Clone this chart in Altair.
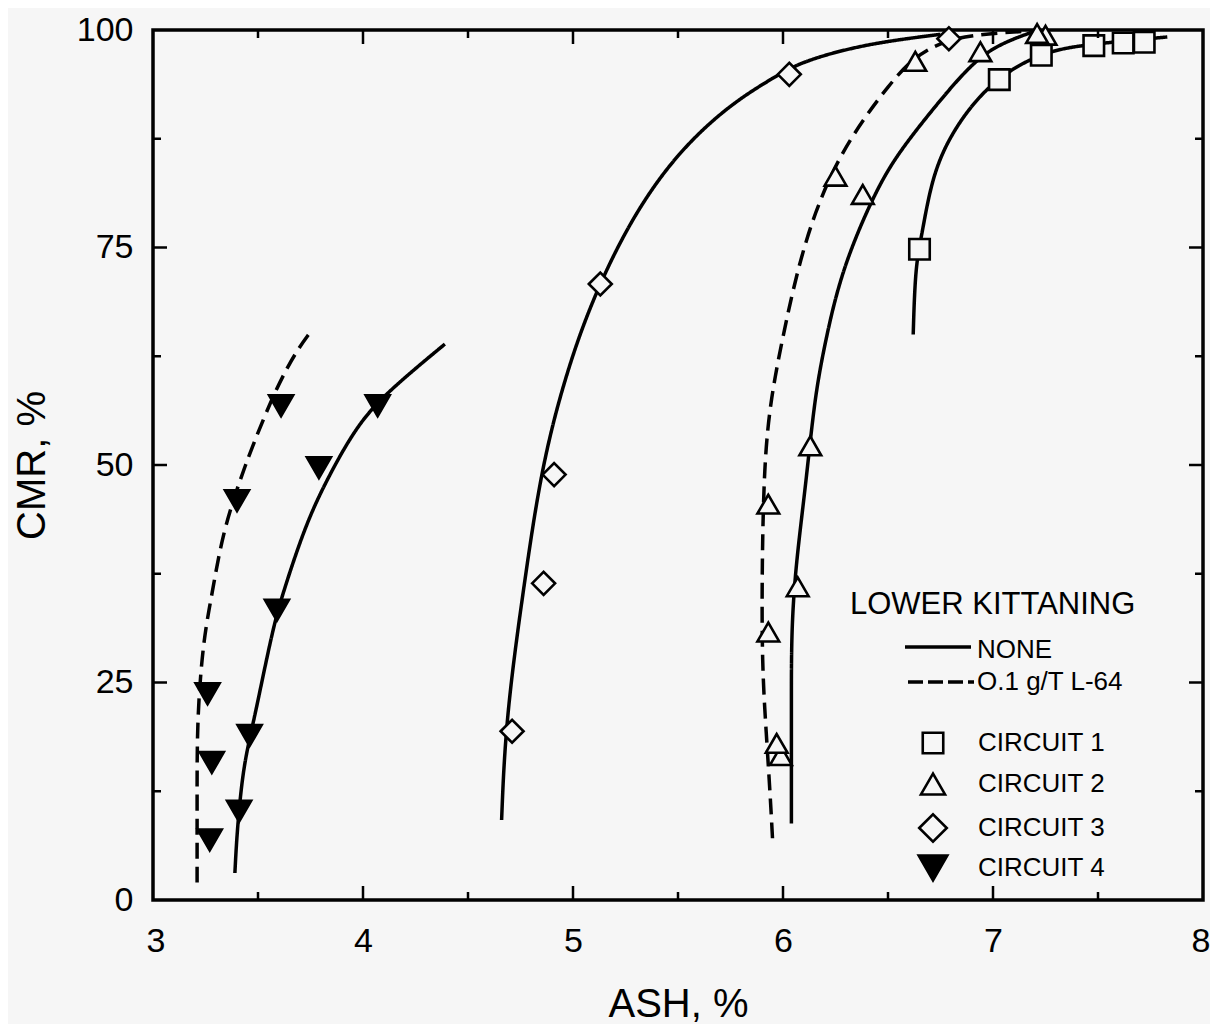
import altair as alt
import pandas as pd

# ---------------- data ----------------
# Circuit markers (ASH %, CMR %)
c1_x = [6.65, 7.03, 7.23, 7.48, 7.62, 7.72]
c1_y = [74.8, 94.3, 97.1, 98.2, 98.5, 98.6]

c2_none_x = [5.99, 6.07, 6.13, 6.38, 6.94, 7.25]
c2_none_y = [16.6, 36.0, 52.2, 81.1, 97.5, 99.4]
c2_l64_x = [5.97, 5.93, 5.93, 6.25, 6.63, 7.21]
c2_l64_y = [18.0, 30.8, 45.5, 83.2, 96.4, 99.6]

c3_x = [4.71, 4.86, 4.91, 5.13, 6.03, 6.79]
c3_y = [19.4, 36.4, 48.9, 70.8, 94.9, 99.0]

c4_none_x = [3.41, 3.46, 3.59, 3.79, 4.07]
c4_none_y = [10.2, 18.9, 33.3, 49.7, 56.8]
c4_l64_x = [3.27, 3.28, 3.26, 3.40, 3.61]
c4_l64_y = [6.9, 15.8, 23.7, 45.9, 56.8]

# Fitted curves
fit_c1_none_x = [6.62, 6.63, 6.66, 6.71, 6.80, 6.94, 7.10, 7.28, 7.45, 7.65, 7.83]
fit_c1_none_y = [65.0, 72.8, 76.3, 83.2, 88.1, 92.7, 95.8, 97.7, 98.3, 98.8, 99.2]

fit_c2_none_x = [6.04, 6.04, 6.04, 6.04, 6.06, 6.11, 6.15, 6.20, 6.28, 6.44, 6.55, 6.71, 6.87, 7.00, 7.18]
fit_c2_none_y = [8.8, 15.5, 23.2, 30.8, 38.4, 48.0, 57.6, 64.1, 72.5, 81.5, 85.9, 90.8, 95.4, 98.1, 99.7]

fit_c2_l64_x = [5.95, 5.94, 5.92, 5.90, 5.90, 5.91, 5.94, 6.01, 6.07, 6.15, 6.26, 6.39, 6.50, 6.61, 6.74, 6.90, 7.20]
fit_c2_l64_y = [7.1, 11.7, 19.3, 27.0, 38.4, 49.9, 57.6, 66.0, 72.5, 79.0, 85.1, 90.0, 93.5, 96.6, 98.5, 99.5, 99.9]

fit_c3_none_x = [4.66, 4.68, 4.77, 4.85, 4.96, 5.09, 5.28, 5.50, 5.75, 5.96, 6.09, 6.39, 6.75]
fit_c3_none_y = [9.2, 21.0, 36.8, 49.7, 60.0, 69.0, 78.5, 86.0, 91.5, 94.6, 96.4, 98.4, 99.5]

fit_c4_none_x = [3.39, 3.40, 3.43, 3.48, 3.57, 3.62, 3.73, 3.84, 3.98, 4.13, 4.39]
fit_c4_none_y = [3.1, 7.9, 15.5, 20.5, 31.2, 35.4, 43.4, 48.9, 54.9, 58.7, 63.9]

fit_c4_l64_x = [3.21, 3.21, 3.21, 3.24, 3.28, 3.33, 3.41, 3.48, 3.59, 3.68, 3.75]
fit_c4_l64_y = [2.0, 12.0, 21.0, 30.0, 35.0, 42.0, 48.0, 52.6, 59.0, 63.0, 65.3]

circuits = ["CIRCUIT 1", "CIRCUIT 2", "CIRCUIT 3", "CIRCUIT 4"]
reagents = ["NONE", "O.1 g/T L-64"]
legend_title = "LOWER KITTANING"

x_labels = [3, 4, 5, 6, 7, 8]
y_labels = [0, 25, 50, 75, 100]
x_major_ticks = [4, 5, 6, 7]
x_minor_ticks = [3.5, 4.5, 5.5, 6.5, 7.5]
y_major_ticks = [25, 50, 75]
y_minor_ticks = [12.5, 37.5, 62.5, 87.5]

# ---------------- build tables ----------------
BG = "#f6f6f6"
W, H = 1050, 870
FONT = "Liberation Sans"
DASH = [16, 8]

curves = [
    ("c1_none", "solid", fit_c1_none_x, fit_c1_none_y),
    ("c2_none", "solid", fit_c2_none_x, fit_c2_none_y),
    ("c2_l64", "dashed", fit_c2_l64_x, fit_c2_l64_y),
    ("c3_none", "solid", fit_c3_none_x, fit_c3_none_y),
    ("c4_none", "solid", fit_c4_none_x, fit_c4_none_y),
    ("c4_l64", "dashed", fit_c4_l64_x, fit_c4_l64_y),
]
rows = []
for name, dash, xs_, ys_ in curves:
    for i, (a, b) in enumerate(zip(xs_, ys_)):
        rows.append({"x": a, "y": b, "curve": name, "dash": dash, "i": i})
lines_df = pd.DataFrame(rows)

pts = []
for circ, xs_, ys_ in [
    (circuits[0], c1_x, c1_y),
    (circuits[1], c2_none_x, c2_none_y),
    (circuits[1], c2_l64_x, c2_l64_y),
    (circuits[2], c3_x, c3_y),
    (circuits[3], c4_none_x, c4_none_y),
    (circuits[3], c4_l64_x, c4_l64_y),
]:
    for a, b in zip(xs_, ys_):
        pts.append({"x": a, "y": b, "circuit": circ})
pts_df = pd.DataFrame(pts)

xscale = alt.Scale(domain=[3, 8], nice=False, zero=False)
yscale = alt.Scale(domain=[0, 100], nice=False, zero=False)

xaxis = alt.Axis(values=x_labels, title="ASH, %", ticks=False, domain=False, grid=False,
                 labelFontSize=34, labelFont=FONT, labelColor="black", labelPadding=24,
                 labelFlush=True, labelFlushOffset=7, labelOverlap=False, format="d",
                 titleFontSize=40, titleFont=FONT, titleFontWeight="normal", titleColor="black",
                 titlePadding=26)
yaxis = alt.Axis(values=y_labels, title="CMR, %", ticks=False, domain=False, grid=False,
                 labelFontSize=34, labelFont=FONT, labelColor="black", labelPadding=20,
                 labelFlush=False, labelOverlap=False, format="d",
                 titleFontSize=40, titleFont=FONT, titleFontWeight="normal", titleColor="black",
                 titlePadding=24)


def X(field="x"):
    return alt.X(f"{field}:Q", scale=xscale, axis=xaxis)


def Y(field="y"):
    return alt.Y(f"{field}:Q", scale=yscale, axis=yaxis)


lines = alt.Chart(lines_df).mark_line(color="black", strokeWidth=3.5,
                                      interpolate="basis").encode(
    x=X(), y=Y(),
    detail="curve:N",
    order="i:Q",
    strokeDash=alt.StrokeDash("dash:N", scale=alt.Scale(domain=["solid", "dashed"],
                                                        range=[[1, 0], DASH]), legend=None),
)

shape_range = ["square", "triangle-up", "diamond", "triangle-down"]
fill_range = [BG, BG, BG, "black"]
size_range = [420, 580, 760, 820]

points = alt.Chart(pts_df).mark_point(filled=True, stroke="black", strokeWidth=2.6, opacity=1).encode(
    x=X(), y=Y(),
    shape=alt.Shape("circuit:N", scale=alt.Scale(domain=circuits, range=shape_range), legend=None),
    fill=alt.Fill("circuit:N", scale=alt.Scale(domain=circuits, range=fill_range), legend=None),
    size=alt.Size("circuit:N", scale=alt.Scale(domain=circuits, range=size_range), legend=None),
)

# inward ticks on all four sides
MAJ, MIN = 14, 8
tick_layers = []
for vals, ln in [(x_major_ticks, MAJ), (x_minor_ticks, MIN)]:
    df = pd.DataFrame({"x": vals})
    tick_layers.append(alt.Chart(df).mark_rule(color="black", strokeWidth=2.5).encode(
        x=X(), y=alt.value(H), y2=alt.value(H - ln)))
    tick_layers.append(alt.Chart(df).mark_rule(color="black", strokeWidth=2.5).encode(
        x=X(), y=alt.value(0), y2=alt.value(ln)))
for vals, ln in [(y_major_ticks, MAJ), (y_minor_ticks, MIN)]:
    df = pd.DataFrame({"y": vals})
    tick_layers.append(alt.Chart(df).mark_rule(color="black", strokeWidth=2.5).encode(
        y=Y(), x=alt.value(0), x2=alt.value(ln)))
    tick_layers.append(alt.Chart(df).mark_rule(color="black", strokeWidth=2.5).encode(
        y=Y(), x=alt.value(W), x2=alt.value(W - ln)))

# ---------------- manual legend ----------------
one = alt.Data(values=[{}])
leg = []
leg.append(alt.Chart(one).mark_text(text=legend_title, align="left", baseline="middle",
                                    font=FONT, fontSize=31, color="black").encode(
    x=alt.value(697), y=alt.value(575)))
leg.append(alt.Chart(one).mark_rule(color="black", strokeWidth=3.5).encode(
    x=alt.value(752), x2=alt.value(818), y=alt.value(617)))
leg.append(alt.Chart(one).mark_rule(color="black", strokeWidth=3.5, strokeDash=[15, 5]).encode(
    x=alt.value(755), x2=alt.value(821), y=alt.value(652)))
for txt, yy in zip(reagents, [620, 652]):
    leg.append(alt.Chart(one).mark_text(text=txt, align="left", baseline="middle",
                                        font=FONT, fontSize=26, color="black").encode(
        x=alt.value(824), y=alt.value(yy)))
for circ, shp, fl, sz, yy in zip(circuits, shape_range, fill_range, size_range, [713, 754, 798, 838]):
    leg.append(alt.Chart(one).mark_point(shape=shp, filled=True, fill=fl, stroke="black",
                                         strokeWidth=2.6, size=sz, opacity=1).encode(
        x=alt.value(780), y=alt.value(yy)))
    leg.append(alt.Chart(one).mark_text(text=circ, align="left", baseline="middle",
                                        font=FONT, fontSize=26, color="black").encode(
        x=alt.value(825), y=alt.value(yy)))

chart = alt.layer(lines, points, *tick_layers, *leg).properties(
    width=W, height=H,
    background=BG,
    padding={"left": 145, "top": 22, "right": 7, "bottom": 124},
    autosize=alt.AutoSizeParams(type="none"),
).configure_view(stroke="black", strokeWidth=3.5, fill=BG)

chart.save("out.html", embed_options={"renderer": "svg", "actions": False})
